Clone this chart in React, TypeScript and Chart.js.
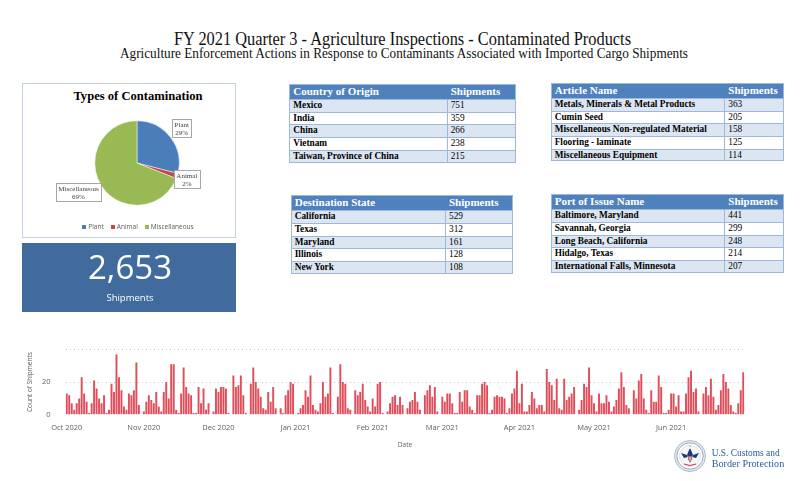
import React, { useEffect, useRef } from 'react';
import { Chart, registerables } from 'chart.js';

Chart.register(...registerables);

// ---------- Data ----------
const titleText = 'FY 2021 Quarter 3 - Agriculture Inspections - Contaminated Products';
const subtitleText = 'Agriculture Enforcement Actions in Response to Contaminants Associated with Imported Cargo Shipments';

const pieTitle = 'Types of Contamination';
const pieLabels = ['Plant', 'Animal', 'Miscellaneous'];
const pieValues = [29, 2, 69];

const totalShipments = '2,653';
const totalLabel = 'Shipments';

const countryNames = ['Mexico', 'India', 'China', 'Vietnam', 'Taiwan, Province of China'];
const countryShipments = [751, 359, 266, 238, 215];

const articleNames = ['Metals, Minerals & Metal Products', 'Cumin Seed', 'Miscellaneous Non-regulated Material', 'Flooring - laminate', 'Miscellaneous Equipment'];
const articleShipments = [363, 205, 158, 125, 114];

const stateNames = ['California', 'Texas', 'Maryland', 'Illinois', 'New York'];
const stateShipments = [529, 312, 161, 128, 108];

const portNames = ['Baltimore, Maryland', 'Savannah, Georgia', 'Long Beach, California', 'Hidalgo, Texas', 'International Falls, Minnesota'];
const portShipments = [441, 299, 248, 214, 207];

// daily count of shipments, 2020-10-01 .. 2021-06-30
const dailyCounts = [
  13, 12, 7, 3, 7, 10, 23, 13, 8, 1,
  7, 21, 16, 10, 7, 12, 1, 3, 19, 14,
  37, 23, 15, 5, 3, 13, 12, 15, 32, 6,
  0, 2, 8, 12, 9, 7, 14, 5, 2, 14,
  20, 10, 31, 31, 3, 1, 13, 29, 17, 13,
  12, 1, 1, 17, 7, 16, 3, 7, 0, 2,
  16, 14, 17, 17, 16,
  1, 0, 24, 17, 18, 24, 12, 1, 0, 19,
  29, 20, 16, 11, 4, 3, 14, 8, 17, 4,
  0, 4, 1, 12, 15, 20, 19, 0, 1, 4,
  6, 15, 11, 24, 6, 3, 2, 7, 20, 11,
  13, 29, 1, 0, 11, 31, 20, 19, 4, 3,
  0, 15, 12, 14, 19, 9, 5, 2, 10, 5,
  19, 20, 1, 0, 2, 7, 11, 12, 6, 11,
  6, 0, 4, 8, 9, 14, 8, 3, 0, 12,
  15, 18, 11, 17, 2, 0, 11, 8, 13, 13,
  7, 1, 1, 14, 8, 15, 15, 5, 3, 1,
  12, 12, 19, 20, 18, 1, 3, 11, 12, 11,
  11, 10, 1, 4, 13, 16, 27, 7, 19, 2,
  2, 6, 14, 10, 4, 6, 6, 2, 28, 20,
  18, 9, 22, 4, 3, 22, 9, 11, 13, 17,
  0, 3, 9, 19, 17, 29, 12, 7, 2, 13,
  7, 7, 12, 8, 2, 5, 9, 16, 26, 17,
  6, 4, 0, 15, 10, 21, 25, 10, 3, 1,
  15, 8, 8, 24, 17, 1, 1, 3, 13, 13,
  5, 12, 2, 2, 13, 23, 27, 14, 16, 2,
  0, 13, 17, 12, 22, 11, 3, 6, 15, 25,
  20, 16, 6, 2, 1, 7, 15, 26,
];
const startYear = 2020;
const startMonth = 9; // October (0-based)
const monthNames = ['Jan', 'Feb', 'Mar', 'Apr', 'May', 'Jun', 'Jul', 'Aug', 'Sep', 'Oct', 'Nov', 'Dec'];
const yTickValues = [0, 20];

const xTitle = 'Date';
const yTitle = 'Count of Shipments';

const orgLine1 = 'U.S. Customs and';
const orgLine2 = 'Border Protection';

// ---------- Styles ----------
const pieColors = ['#4a7ebb', '#be4b48', '#98b954'];
const pieLabelDist = [1.34, 1.24, 1.55];
const pieLabelAngleShift = [0, 0, 0.13];
const barColor = '#df4f5b';
const serif = '"Liberation Serif", "Times New Roman", serif';
const sans = '"Open Sans", "Noto Sans", sans-serif';

const dayDates = dailyCounts.map((_, i) => new Date(startYear, startMonth, 1 + i));
const dayLabels = dayDates.map(
  (d) => `${d.getFullYear()}-${String(d.getMonth() + 1).padStart(2, '0')}-${String(d.getDate()).padStart(2, '0')}`
);
const monthTickText = dayDates.map((d) => (d.getDate() === 1 ? `${monthNames[d.getMonth()]} ${d.getFullYear()}` : ''));

const pieLabelPlugin = {
  id: 'pieBoxLabels',
  afterDatasetsDraw(chart: any) {
    const meta = chart.getDatasetMeta(0);
    const ctx = chart.ctx;
    ctx.save();
    ctx.font = `7px ${serif}`;
    meta.data.forEach((arc: any, i: number) => {
      const p = arc.getProps(['x', 'y', 'startAngle', 'endAngle', 'outerRadius'], true);
      const mid = (p.startAngle + p.endAngle) / 2 + pieLabelAngleShift[i];
      const cx = p.x + Math.cos(mid) * p.outerRadius * pieLabelDist[i];
      const cy = p.y + Math.sin(mid) * p.outerRadius * pieLabelDist[i];
      const lines = [pieLabels[i], `${pieValues[i]}%`];
      const w = Math.max(...lines.map((l) => ctx.measureText(l).width)) + 5;
      const h = 18;
      ctx.fillStyle = '#ffffff';
      ctx.fillRect(Math.round(cx - w / 2) + 0.5, Math.round(cy - h / 2) + 0.5, Math.round(w), h);
      ctx.strokeStyle = '#a6a6a6';
      ctx.lineWidth = 1;
      ctx.strokeRect(Math.round(cx - w / 2) + 0.5, Math.round(cy - h / 2) + 0.5, Math.round(w), h);
      ctx.fillStyle = '#404040';
      ctx.textAlign = 'center';
      ctx.textBaseline = 'middle';
      ctx.fillText(lines[0], cx, cy - 3.5);
      ctx.fillText(lines[1], cx, cy + 4.5);
    });
    ctx.restore();
  },
};

function PieChart() {
  const ref = useRef<HTMLCanvasElement>(null);
  useEffect(() => {
    const chart = new Chart(ref.current as HTMLCanvasElement, {
      type: 'pie',
      data: {
        labels: pieLabels,
        datasets: [{ data: pieValues, backgroundColor: pieColors, borderColor: '#ffffff', borderWidth: 0.5 }],
      },
      options: {
        animation: false,
        responsive: false,
        layout: { padding: { left: 72.5, right: 56.5, top: 37.5, bottom: 32.5 } },
        plugins: { legend: { display: false }, tooltip: { enabled: false }, title: { display: false } },
      },
      plugins: [pieLabelPlugin],
    } as any);
    return () => chart.destroy();
  }, []);
  return <canvas ref={ref} width={214} height={155} style={{ position: 'absolute', left: 22, top: 83 }} />;
}

function BarChart() {
  const ref = useRef<HTMLCanvasElement>(null);
  useEffect(() => {
    const chart = new Chart(ref.current as HTMLCanvasElement, {
      type: 'bar',
      data: {
        labels: dayLabels,
        datasets: [
          { data: dailyCounts, backgroundColor: barColor, barPercentage: 0.78, categoryPercentage: 1 },
        ],
      },
      options: {
        animation: false,
        responsive: false,
        layout: { padding: { left: 22, right: 15.5, top: 8.7, bottom: 4.3 } },
        plugins: { legend: { display: false }, tooltip: { enabled: false } },
        scales: {
          x: {
            grid: { display: false, drawTicks: false },
            border: { display: false },
            ticks: {
              autoSkip: false,
              maxRotation: 0,
              minRotation: 0,
              padding: 9,
              color: '#605e5c',
              font: { family: sans, size: 7.5 },
              callback: (_v: any, i: number) => monthTickText[i],
            },
            title: {
              display: true,
              text: xTitle,
              color: '#605e5c',
              font: { family: sans, size: 6.5 },
              padding: { top: 0, bottom: 1.5 },
            },
            afterFit: (s: any) => {
              s.height = 36;
            },
          },
          y: {
            min: 0,
            max: 40,
            afterBuildTicks: (s: any) => {
              s.ticks = [...yTickValues, 40].map((v) => ({ value: v }));
            },
            ticks: {
              padding: 15,
              color: '#605e5c',
              font: { family: sans, size: 7.5 },
              callback: (v: any) => (yTickValues.includes(v) ? String(v) : ''),
            },
            grid: {
              drawTicks: false,
              color: (c: any) => (c.tick && c.tick.value === 0 ? 'rgba(0,0,0,0)' : '#c8c6c4'),
              lineWidth: 1,
            },
            border: { display: false, dash: [1, 3] },
            title: {
              display: true,
              text: yTitle,
              color: '#605e5c',
              font: { family: sans, size: 6.5 },
              padding: { top: 4, bottom: 0 },
            },
            afterFit: (s: any) => {
              s.width = 43.5;
            },
          },
        },
      },
    } as any);
    return () => chart.destroy();
  }, []);
  return <canvas ref={ref} width={760} height={125} style={{ position: 'absolute', left: 0, top: 330 }} />;
}

type TableProps = {
  left: number;
  top: number;
  divider: number;
  right: number;
  headerH: number;
  rowH: number;
  header: string;
  names: string[];
  values: number[];
};

function DataTable({ left, top, divider, right, headerH, rowH, header, names, values }: TableProps) {
  const width = right - left;
  const height = headerH + rowH * names.length;
  const border = '#9db8db';
  return (
    <div style={{ position: 'absolute', left, top, width, height, fontFamily: serif }}>
      <div
        style={{
          position: 'absolute', left: 0, top: 0, width, height: headerH, background: '#4f81bd',
          color: '#ffffff', fontWeight: 'bold', fontSize: 11, lineHeight: `${headerH}px`, whiteSpace: 'nowrap',
        }}
      >
        <span style={{ position: 'absolute', left: 4 }}>{header}</span>
        <span style={{ position: 'absolute', left: divider - left + 4 }}>Shipments</span>
      </div>
      {names.map((n, i) => (
        <div
          key={n}
          style={{
            position: 'absolute', left: 0, top: headerH + i * rowH, width, height: rowH,
            background: i % 2 === 0 ? '#dce6f2' : '#ffffff', borderTop: `1px solid ${border}`, boxSizing: 'border-box',
            fontSize: 9.3, lineHeight: `${rowH - 1}px`, color: '#000000', whiteSpace: 'nowrap',
          }}
        >
          <span style={{ position: 'absolute', left: 4, fontWeight: 'bold' }}>{n}</span>
          <span style={{ position: 'absolute', left: divider - left + 4 }}>{values[i]}</span>
        </div>
      ))}
      <div style={{ position: 'absolute', left: divider - left, top: headerH, width: 1, height: height - headerH, background: border }} />
      <div style={{ position: 'absolute', left: 0, top: 0, width, height, border: `1px solid ${border}`, boxSizing: 'border-box' }} />
    </div>
  );
}

function Seal() {
  return (
    <svg width={34} height={34} style={{ position: 'absolute', left: 673, top: 439 }} viewBox="-17 -17 34 34">
      <circle r={15.5} fill="#e9edf3" stroke="#9aa7bd" strokeWidth={0.8} />
      <circle r={13.2} fill="#ffffff" stroke="#5a6f96" strokeWidth={0.6} />
      <circle r={10.5} fill="#f4f6fa" stroke="#b7c1d3" strokeWidth={0.4} />
      <path d="M-9,-3 L-3,-1 L-1,-6 L0,-7.5 L1,-6 L3,-1 L9,-3 L6,2 L2,1 L0,7 L-2,1 L-6,2 Z" fill="#1d3a72" />
      <rect x={-2.6} y={-1} width={5.2} height={5.5} fill="#ffffff" />
      <rect x={-2.6} y={-1} width={5.2} height={1.6} fill="#1d3a72" />
      <rect x={-2.1} y={0.8} width={0.9} height={3.5} fill="#c8323c" />
      <rect x={-0.45} y={0.8} width={0.9} height={3.8} fill="#c8323c" />
      <rect x={1.2} y={0.8} width={0.9} height={3.5} fill="#c8323c" />
      <path d="M-6,8 Q0,11 6,8" stroke="#c8323c" strokeWidth={1} fill="none" />
      <circle r={0.8} cx={0} cy={-10} fill="#d0a030" />
    </svg>
  );
}

export default function App() {
  return (
    <div
      style={{
        position: 'fixed', left: 0, top: 0, width: 800, height: 481, background: '#ffffff', overflow: 'hidden',
      }}
    >
      <svg width={800} height={64} style={{ position: 'absolute', left: 0, top: 0 }}>
        <text x={402.5} y={45} textAnchor="middle" fontFamily={serif} fontSize={18} fill="#111111" textLength={457} lengthAdjust="spacingAndGlyphs">
          {titleText}
        </text>
        <text x={404} y={57.5} textAnchor="middle" fontFamily={serif} fontSize={14} fill="#111111" textLength={568} lengthAdjust="spacingAndGlyphs">
          {subtitleText}
        </text>
      </svg>

      {/* pie box */}
      <div style={{ position: 'absolute', left: 22, top: 83, width: 214, height: 155, border: '1px solid #c3d1e3', boxSizing: 'border-box' }} />
      <div
        style={{
          position: 'absolute', left: 22, top: 89, width: 232, textAlign: 'center', fontFamily: serif,
          fontWeight: 'bold', fontSize: 12.6, lineHeight: '15px', color: '#000000',
        }}
      >
        {pieTitle}
      </div>
      <PieChart />
      <div
        style={{
          position: 'absolute', left: 22, top: 222, width: 232, display: 'flex', justifyContent: 'center', gap: 7,
          fontFamily: sans, fontSize: 6.5, lineHeight: '9px', color: '#595959',
        }}
      >
        {pieLabels.map((l, i) => (
          <span key={l} style={{ display: 'flex', alignItems: 'center', gap: 2 }}>
            <span style={{ display: 'inline-block', width: 4, height: 4, background: pieColors[i] }} />
            {l}
          </span>
        ))}
      </div>

      {/* card */}
      <div style={{ position: 'absolute', left: 22, top: 243, width: 214, height: 69, background: '#416a9d' }}>
        <div style={{ position: 'absolute', left: 0, top: 4, width: 216, textAlign: 'center', fontFamily: sans, fontSize: 33, lineHeight: '40px', color: '#ffffff' }}>
          {totalShipments}
        </div>
        <div style={{ position: 'absolute', left: 0, top: 48, width: 216, textAlign: 'center', fontFamily: sans, fontSize: 9.5, lineHeight: '14px', color: '#ffffff' }}>
          {totalLabel}
        </div>
      </div>

      <DataTable left={289.3} top={84} divider={446.7} right={515.7} headerH={15} rowH={12.7} header="Country of Origin" names={countryNames} values={countryShipments} />
      <DataTable left={550.7} top={82.7} divider={724.3} right={784.3} headerH={15.6} rowH={12.6} header="Article Name" names={articleNames} values={articleShipments} />
      <DataTable left={290.7} top={195.3} divider={445} right={513.3} headerH={14.7} rowH={12.8} header="Destination State" names={stateNames} values={stateShipments} />
      <DataTable left={550.7} top={194.3} divider={724.3} right={784.3} headerH={15} rowH={12.7} header="Port of Issue Name" names={portNames} values={portShipments} />

      <BarChart />

      <Seal />
      <svg width={90} height={30} style={{ position: 'absolute', left: 708, top: 443 }}>
        <text x={3.7} y={13} fontFamily={serif} fontSize={11} fill="#2c5c9c" textLength={68} lengthAdjust="spacingAndGlyphs">
          {orgLine1}
        </text>
        <text x={3.7} y={24} fontFamily={serif} fontSize={11} fill="#2c5c9c" textLength={72.6} lengthAdjust="spacingAndGlyphs">
          {orgLine2}
        </text>
      </svg>
    </div>
  );
}
